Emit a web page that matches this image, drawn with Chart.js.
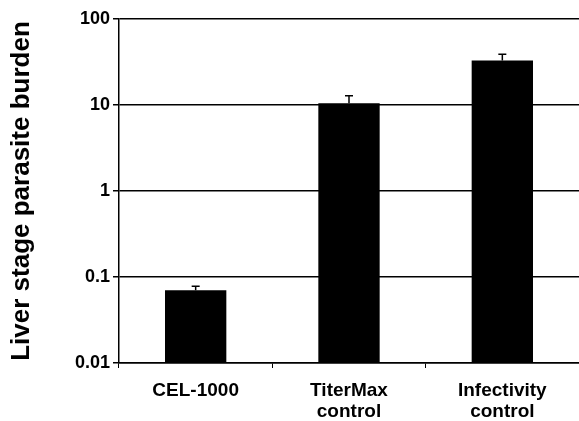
<!DOCTYPE html>
<html>
<head>
<meta charset="utf-8">
<script src="https://cdn.jsdelivr.net/npm/chart.js@4.4.0/dist/chart.umd.min.js"></script>
<style>
  html, body { margin: 0; padding: 0; background: #fff; }
  #wrap { width: 579px; height: 421px; }
</style>
</head>
<body>
<div id="wrap"><canvas id="bar-chart"></canvas></div>
<script>
var categories = [["CEL-1000"], ["TiterMax", "control"], ["Infectivity", "control"]];
var burden = [0.07, 10.5, 33];
var burdenUpper = [0.078, 12.8, 39];
var yTicks = [0.01, 0.1, 1, 10, 100];

// draws the upper error bar with a little cap on each bar
var errorBars = {
  id: 'errorBars',
  afterDatasetsDraw: function (chart) {
    var ctx = chart.ctx;
    var y = chart.scales.y;
    var meta = chart.getDatasetMeta(0);
    ctx.save();
    ctx.strokeStyle = '#000';
    ctx.lineWidth = 1.5;
    meta.data.forEach(function (bar, i) {
      var top = y.getPixelForValue(burdenUpper[i]);
      ctx.beginPath();
      ctx.moveTo(bar.x, bar.y);
      ctx.lineTo(bar.x, top);
      ctx.moveTo(bar.x - 4, top);
      ctx.lineTo(bar.x + 4, top);
      ctx.stroke();
    });
    ctx.restore();
  }
};

var ctx = document.getElementById('bar-chart').getContext('2d');
new Chart(ctx, {
  type: 'bar',
  data: {
    labels: categories,
    datasets: [{
      data: burden,
      backgroundColor: '#000',
      borderWidth: 0,
      barPercentage: 0.4,
      categoryPercentage: 1
    }]
  },
  options: {
    responsive: true,
    maintainAspectRatio: false,
    animation: false,
    layout: { padding: { top: 19, right: 0, left: 0, bottom: 0 } },
    plugins: {
      legend: { display: false },
      tooltip: { enabled: false }
    },
    scales: {
      x: {
        grid: { offset: true, drawOnChartArea: false, color: '#000', tickLength: 5, lineWidth: 1 },
        border: { color: '#000', width: 1.5 },
        ticks: {
          color: '#000',
          padding: 12,
          maxRotation: 0,
          font: { family: 'Liberation Sans', size: 19, weight: 'bold', lineHeight: 1.1 }
        },
        afterFit: function (scale) { scale.height = 58; }
      },
      y: {
        type: 'logarithmic',
        min: 0.01,
        max: 100,
        afterBuildTicks: function (scale) {
          scale.ticks = yTicks.map(function (v) { return { value: v }; });
        },
        grid: { color: '#000', lineWidth: 1.5, tickLength: 6 },
        border: { color: '#000', width: 1.5 },
        ticks: {
          color: '#000',
          padding: 3,
          font: { family: 'Liberation Sans', size: 18, weight: 'bold' },
          callback: function (v) { return String(v); }
        },
        title: {
          display: true,
          text: 'Liver stage parasite burden',
          color: '#000',
          padding: { top: 6, bottom: 0 },
          font: { family: 'Liberation Sans', size: 26, weight: 'bold' }
        },
        afterFit: function (scale) { scale.width = 119; }
      }
    }
  },
  plugins: [errorBars]
});
</script>
</body>
</html>
